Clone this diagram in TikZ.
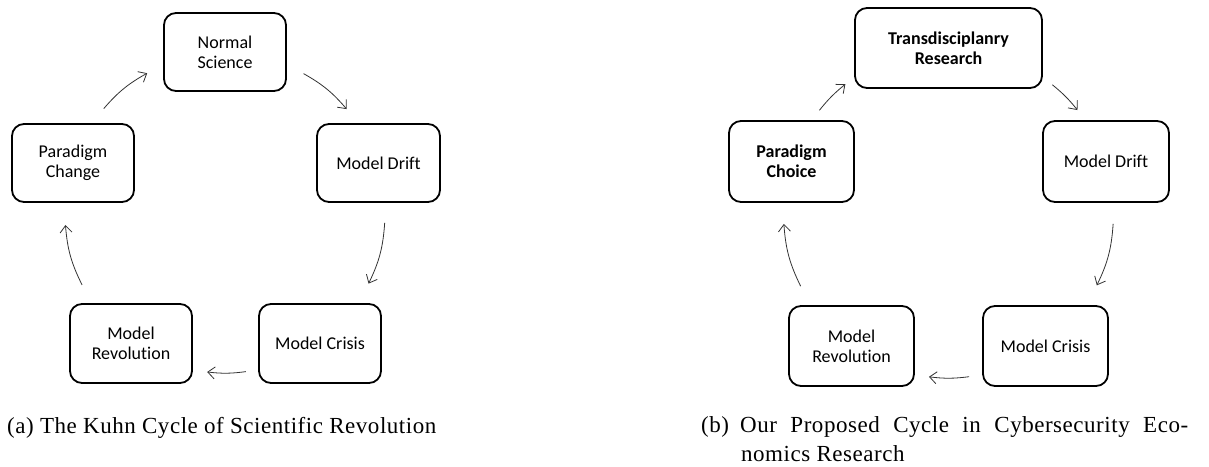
\documentclass[tikz,border=0pt]{standalone}
\usepackage{fontspec}
\setmainfont{Carlito}[Ligatures=NoCommon]
\newfontfamily\capfont{Liberation Serif}[LetterSpace=2.3]
\usetikzlibrary{arrows.meta,calc}
\tikzset{
  box/.style={draw=black, line width=1.8pt, rounded corners=12pt, align=center,
    font=\fontsize{18}{19.8}\selectfont, inner sep=0pt},
  boldbox/.style={box, font=\fontsize{18}{19.8}\selectfont\bfseries},
  cyc/.style={draw=black!80, line width=0.8pt, -{Straight Barb[length=7pt,width=12pt]}},
  captext/.style={font=\capfont\fontsize{23}{29}\selectfont, inner sep=0pt, anchor=base west}
}
\begin{document}
\begin{tikzpicture}[x=1pt,y=1pt]
\useasboundingbox (0,0) rectangle (1209,466);
% ---------- left diagram ----------
\coordinate (cl) at (225,253);
\node[box, minimum width=122pt, minimum height=78pt] (ns) at (225,414) {Normal\\Science};
\node[box, minimum width=122pt, minimum height=78pt] (pc) at (73,303) {Paradigm\\Change};
\node[box, minimum width=123pt, minimum height=78pt] (md) at (378.5,303) {Model Drift};
\node[box, minimum width=122pt, minimum height=79pt] (mr) at (131,122.5) {Model\\Revolution};
\node[box, minimum width=122pt, minimum height=79pt] (mc) at (320,122.5) {Model Crisis};
\coordinate (l1s) at ($(cl)+(139.3:160pt)$);
\coordinate (l1e) at ($(cl)+(119.1:160pt)$);
\coordinate (l2s) at ($(cl)+(60.6:160pt)$);
\coordinate (l2e) at ($(cl)+(40.5:160pt)$);
\coordinate (l3s) at ($(cl)+(-3.5:160pt)$);
\coordinate (l3e) at ($(cl)+(-26.2:160pt)$);
\coordinate (l4s) at ($(cl)+(-82.5:160pt)$);
\coordinate (l4e) at ($(cl)+(-96.4:160pt)$);
\coordinate (l5s) at ($(cl)+(206.7:160pt)$);
\coordinate (l5e) at ($(cl)+(184.3:160pt)$);
\draw[cyc] (l1s) to[bend left=10] (l1e);
\draw[cyc] (l2s) to[bend left=10] (l2e);
\draw[cyc] (l3s) to[bend left=11] (l3e);
\draw[cyc] (l4s) to[bend left=7] (l4e);
\draw[cyc] (l5s) to[bend left=11] (l5e);
\node[captext] (capa) at (7,33) {(a) The Kuhn Cycle of Scientific Revolution};
% ---------- right diagram ----------
\coordinate (cr) at (948.5,253);
\node[boldbox, minimum width=187pt, minimum height=80pt] (tr) at (948.5,418) {Transdisciplanry\\Research};
\node[boldbox, minimum width=125pt, minimum height=81pt] (pch) at (791.5,304.5) {Paradigm\\Choice};
\node[box, minimum width=126pt, minimum height=81pt] (md2) at (1106,304.5) {Model Drift};
\node[box, minimum width=125pt, minimum height=80pt] (mr2) at (851.5,120) {Model\\Revolution};
\node[box, minimum width=125pt, minimum height=80pt] (mc2) at (1045.5,120) {Model Crisis};
\coordinate (r1s) at ($(cr)+(141.5:165pt)$);
\coordinate (r1e) at ($(cr)+(128.7:165pt)$);
\coordinate (r2s) at ($(cr)+(51:165pt)$);
\coordinate (r2e) at ($(cr)+(38.6:165pt)$);
\coordinate (r3s) at ($(cr)+(-3.8:165pt)$);
\coordinate (r3e) at ($(cr)+(-26:165pt)$);
\coordinate (r4s) at ($(cr)+(-82.8:165pt)$);
\coordinate (r4e) at ($(cr)+(-96.8:165pt)$);
\coordinate (r5s) at ($(cr)+(206.3:165pt)$);
\coordinate (r5e) at ($(cr)+(183.8:165pt)$);
\draw[cyc] (r1s) to[bend left=6] (r1e);
\draw[cyc] (r2s) to[bend left=6] (r2e);
\draw[cyc] (r3s) to[bend left=11] (r3e);
\draw[cyc] (r4s) to[bend left=7] (r4e);
\draw[cyc] (r5s) to[bend left=11] (r5e);
\node[captext] (capb0) at (701,34) {(b)};
\node[captext] (capb1) at (740,34) {\makebox[448pt][s]{Our Proposed Cycle in Cybersecurity Eco-}};
\node[captext] (capb2) at (741,5) {nomics Research};
\end{tikzpicture}
\end{document}
